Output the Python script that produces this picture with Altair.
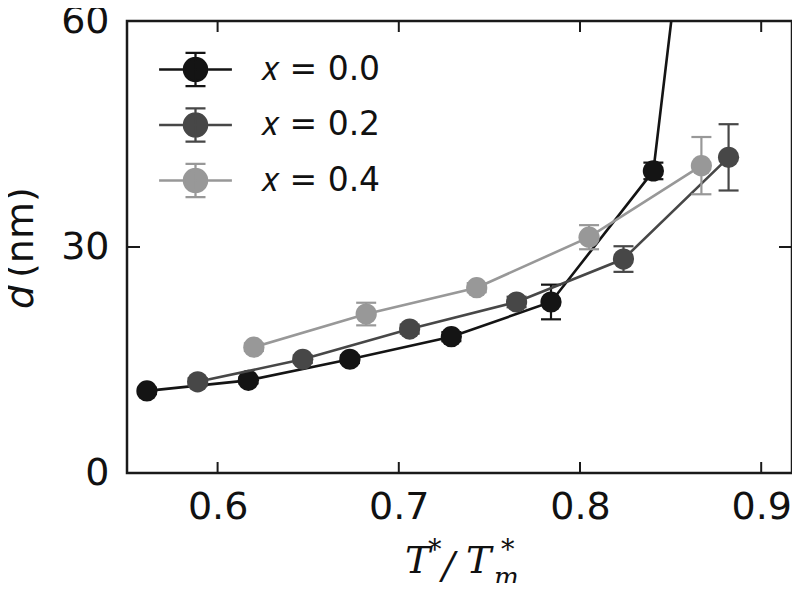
import altair as alt
import pandas as pd

# ---------------- data ----------------
series_names = ["𝑥 = 0.0", "𝑥 = 0.2", "𝑥 = 0.4"]
series_colors = ["#141414", "#474747", "#989898"]

t_00 = [0.561, 0.617, 0.673, 0.729, 0.784, 0.8405, 0.897]
d_00 = [10.9, 12.3, 15.1, 18.1, 22.7, 40.1, 154.0]
e_00 = [0.4, 0.4, 0.5, 0.6, 2.3, 1.1, 0.0]

t_02 = [0.589, 0.647, 0.706, 0.765, 0.824, 0.882]
d_02 = [12.1, 15.1, 19.1, 22.7, 28.4, 41.9]
e_02 = [0.5, 0.5, 0.6, 0.7, 1.7, 4.4]

t_04 = [0.620, 0.682, 0.743, 0.805, 0.867]
d_04 = [16.7, 21.1, 24.6, 31.3, 40.8]
e_04 = [0.5, 1.5, 0.6, 1.6, 3.8]

x_ticks = [0.6, 0.7, 0.8, 0.9]
y_ticks = [0, 30, 60]

x_domain = [0.55, 0.917]
y_domain = [0, 60]

W, H = 665, 452
FG = "#1a1a1a"

# ---------------- tables ----------------
all_t = [t_00, t_02, t_04]
all_d = [d_00, d_02, d_04]
all_e = [e_00, e_02, e_04]

frames = []
for name, ts, ds, es in zip(series_names, all_t, all_d, all_e):
    frames.append(pd.DataFrame({
        "series": name,
        "i": list(range(len(ts))),
        "t": ts,
        "d": ds,
        "lo": [d - e for d, e in zip(ds, es)],
        "hi": [d + e for d, e in zip(ds, es)],
    }))

x_scale = alt.Scale(domain=x_domain, nice=False, zero=False)
y_scale = alt.Scale(domain=y_domain, nice=False, zero=False)
X = alt.X("t:Q", scale=x_scale,
          axis=alt.Axis(values=x_ticks, format=".1f", title=None))
Y = alt.Y("d:Q", scale=y_scale,
          axis=alt.Axis(values=y_ticks, format="d", title=None))

legend_path = ("M-1.82,0H1.82"
               "M0,-0.83V0.83"
               "M-0.5,-0.83H0.5M-0.5,0.83H0.5"
               "M0.58,0A0.58,0.58 0 1,1 -0.58,0A0.58,0.58 0 1,1 0.58,0Z")

legend = alt.Legend(
    title=None, orient="none", legendX=47, legendY=27, padding=0,
    rowPadding=12.5, labelOffset=44, symbolType=legend_path,
    symbolSize=1600, symbolStrokeWidth=2.3, symbolOpacity=1,
    labelFont="DejaVu Sans", labelFontSize=33, labelColor="#111111",
)
sc = alt.Scale(domain=series_names, range=series_colors)
fill = alt.Fill("series:N", scale=sc, legend=legend)
stroke = alt.Stroke("series:N", scale=sc, legend=legend)

layers = []
for df, col in zip(frames, series_colors):
    base = alt.Chart(df)
    line = base.mark_line(strokeWidth=2.6, clip=True, color=col).encode(
        x=X, y=Y, order="i:Q")
    bar = base.mark_rule(strokeWidth=2.2, clip=True, color=col).encode(
        x=X, y=alt.Y("lo:Q", scale=y_scale), y2="hi:Q")
    caps = base.transform_fold(["lo", "hi"], as_=["end", "v"]).mark_tick(
        orient="horizontal", size=20, thickness=2.2, opacity=1, clip=True,
        color=col
    ).encode(x=X, y=alt.Y("v:Q", scale=y_scale))
    pts = base.mark_point(filled=True, size=450, opacity=1, shape="circle",
                          strokeWidth=0, clip=True).encode(
        x=X, y=Y, fill=fill, stroke=stroke)
    layers += [line, bar, caps, pts]

# inward ticks
xt = pd.DataFrame({"t": x_ticks})
yt = pd.DataFrame({"d": [v for v in y_ticks if 0 < v < 60]})
tick_bot = alt.Chart(xt).mark_rule(color=FG, strokeWidth=2).encode(
    x=X, y=alt.value(H - 11), y2=alt.value(H))
tick_top = alt.Chart(xt).mark_rule(color=FG, strokeWidth=2).encode(
    x=X, y=alt.value(0), y2=alt.value(11))
tick_l = alt.Chart(yt).mark_rule(color=FG, strokeWidth=2).encode(
    y=Y, x=alt.value(0), x2=alt.value(13))
tick_r = alt.Chart(yt).mark_rule(color=FG, strokeWidth=2).encode(
    y=Y, x=alt.value(W - 13), x2=alt.value(W))
layers += [tick_bot, tick_top, tick_l, tick_r]

# axis titles (plot coordinates: page minus (127, 21))
one = pd.DataFrame({"k": [0]})
def seg(text, px, py, size, font="DejaVu Serif", style="italic", angle=0):
    return alt.Chart(one).mark_text(
        text=text, font=font, fontStyle=style, fontSize=size, color="#111111",
        align="left", baseline="alphabetic", angle=angle
    ).encode(x=alt.value(px - 127), y=alt.value(py - 21))

layers += [
    seg("T", 405, 573, 38),
    seg("*", 428, 559, 27, style="normal"),
    seg("/", 442, 578, 38),
    seg("T", 466, 573, 38),
    seg("*", 501, 559, 27, style="normal"),
    seg("m", 494, 586, 26),
    seg("d", 33, 309, 38, font="DejaVu Sans", angle=270),
    seg("(nm)", 33, 278, 38, font="DejaVu Sans", style="normal", angle=270),
]

chart = alt.layer(*layers).properties(
    width=W, height=H,
    autosize=alt.AutoSizeParams(type="none"),
    padding={"left": 119, "top": 13, "right": 0, "bottom": 110},
).configure_view(
    stroke=FG, strokeWidth=2.5
).configure_axis(
    domain=False, ticks=False, grid=False,
    labelFont="DejaVu Sans", labelFontSize=38, labelColor="#111111",
    labelFlush=False, labelOverlap=False, labelBound=False,
).configure_axisX(labelPadding=15).configure_axisY(labelPadding=18)

chart.save("out.html", embed_options={"renderer": "svg", "actions": False})
